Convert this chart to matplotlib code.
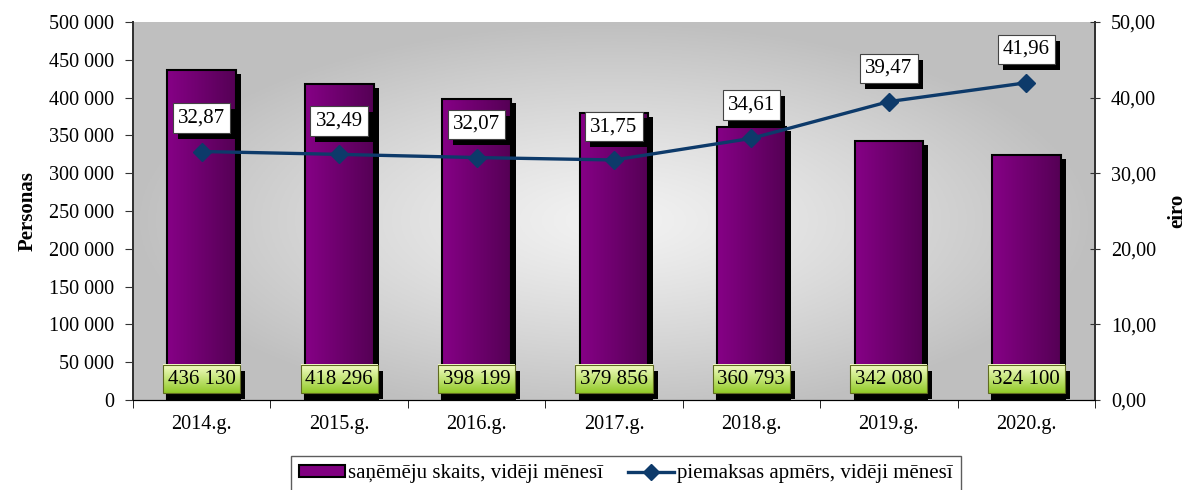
import numpy as np
import matplotlib
matplotlib.use("Agg")
import matplotlib.pyplot as plt
from matplotlib.patches import Rectangle, Patch
from matplotlib.lines import Line2D
import matplotlib.transforms as mtransforms

# Data
years = ["2014.g.", "2015.g.", "2016.g.", "2017.g.", "2018.g.", "2019.g.", "2020.g."]
recipients = [436130, 418296, 398199, 379856, 360793, 342080, 324100]
recipient_labels = ["436 130", "418 296", "398 199", "379 856", "360 793", "342 080", "324 100"]
payment = [32.87, 32.49, 32.07, 31.75, 34.61, 39.47, 41.96]
left_ticks = [0, 50000, 100000, 150000, 200000, 250000, 300000, 350000, 400000, 450000, 500000]
right_ticks = [0, 10, 20, 30, 40, 50]

plt.rcParams["font.family"] = ["Liberation Serif", "DejaVu Serif"]

fig = plt.figure(figsize=(11.92, 4.90), dpi=100)
ax = fig.add_axes([133 / 1192, 1 - 400 / 490, (1095 - 133) / 1192, (400 - 22) / 490])
ax2 = ax.twinx()

n = len(years)
x = np.arange(n)
ax.set_xlim(-0.5, n - 0.5)
ax.set_ylim(0, 500000)
ax2.set_ylim(0, 50)

# Background: radial grey gradient, lighter in the middle
gx = np.linspace(-1, 1, 400)
gy = np.linspace(-1, 1, 200)
GX, GY = np.meshgrid(gx, gy)
r = np.clip(np.sqrt(GX ** 2 + ((GY + 0.05) / 1.05) ** 2), 0, 1)
shade = 0.95 - 0.2 * r ** 1.2
bg = np.dstack([shade, shade, shade])
ax.imshow(bg, extent=(-0.5, n - 0.5, 0, 500000), aspect="auto", zorder=0, origin="lower")

# Bars with horizontal purple gradient and a drop shadow
bar_w = 0.5
shadow_off = mtransforms.ScaledTranslation(5 / 100, -4 / 100, fig.dpi_scale_trans)
grad = np.linspace(0, 1, 64)
c_left = np.array([0x86, 0x00, 0x86]) / 255
c_right = np.array([0x55, 0x00, 0x55]) / 255
bar_img = (c_left[None, :] * (1 - grad[:, None]) + c_right[None, :] * grad[:, None])[None, :, :]
for xi, v in zip(x, recipients):
    sh = Rectangle((xi - bar_w / 2, 0), bar_w, v, facecolor="black", edgecolor="none",
                   transform=ax.transData + shadow_off, zorder=1, clip_on=True)
    ax.add_patch(sh)
    im = ax.imshow(bar_img, extent=(xi - bar_w / 2, xi + bar_w / 2, 0, v), aspect="auto",
                   zorder=2, interpolation="bilinear")
    rect = Rectangle((xi - bar_w / 2, 0), bar_w, v, facecolor="none", edgecolor="black",
                     linewidth=1.5, zorder=3)
    ax.add_patch(rect)
    im.set_clip_path(rect)

# Bar value labels (green boxes)
bar_texts = []
for xi, lab in zip(x, recipient_labels):
    t = ax.annotate(lab, (xi, 0), xytext=(0, 15), textcoords="offset points", ha="center",
                    va="center", fontsize=15, color="black", zorder=7,
                    bbox=dict(boxstyle="square,pad=0.22", facecolor="none", edgecolor="#5f6b20",
                              linewidth=0.8))
    bar_texts.append(t)

# Line series on the secondary axis
ax2.plot(x, payment, color="#0d3a6a", linewidth=2.4, marker="D", markersize=9,
         markeredgecolor="#0d3a6a", zorder=4)
line_texts = []
for xi, v in zip(x, payment):
    s = f"{v:.2f}".replace(".", ",")
    t = ax2.annotate(s, (xi, v), xytext=(0, 24), textcoords="offset points", ha="center",
                     va="center", fontsize=15, color="black", zorder=6,
                     bbox=dict(boxstyle="square,pad=0.25", facecolor="white", edgecolor="#444444",
                               linewidth=0.8))
    line_texts.append(t)

# Axes styling
ax.set_zorder(1)
ax2.set_zorder(2)
ax2.patch.set_visible(False)
ax.set_yticks(left_ticks)
ax.set_yticklabels([f"{v:,}".replace(",", " ") for v in left_ticks], fontsize=14.5)
ax2.set_yticks(right_ticks)
ax2.set_yticklabels([f"{v:.2f}".replace(".", ",") for v in right_ticks], fontsize=14.5)
ax.set_xticks(x)
ax.set_xticklabels(years, fontsize=14.5)
ax.set_xticks(np.arange(n + 1) - 0.5, minor=True)
ax.tick_params(axis="x", which="major", length=0, pad=11)
ax.tick_params(axis="x", which="minor", length=6, direction="out", color="black")
ax.tick_params(axis="y", length=6, direction="out", color="#333333", pad=7.5)
ax2.tick_params(axis="y", length=7, direction="inout", color="#333333", pad=8)
for a in (ax, ax2):
    a.spines["top"].set_visible(False)
    a.spines["left"].set_color("#333333")
    a.spines["right"].set_color("#333333")
    a.spines["left"].set_linewidth(1.4)
    a.spines["right"].set_linewidth(1.4)
    a.spines["bottom"].set_color("black")

ax.set_ylabel("Personas", fontsize=15, fontweight="bold", labelpad=8)
ax2.set_ylabel("eiro", fontsize=15, fontweight="bold", labelpad=8)

# Legend
handles = [Patch(facecolor="#800080", edgecolor="black", linewidth=1.5),
           Line2D([0], [0], color="#0d3a6a", linewidth=2.4, marker="D", markersize=8)]
leg = fig.legend(handles, ["saņēmēju skaits, vidēji mēnesī", "piemaksas apmērs, vidēji mēnesī"],
                 loc="upper center", bbox_to_anchor=(626 / 1192, 1 - 456 / 490), ncol=2,
                 fontsize=15, frameon=True, fancybox=False, edgecolor="#333333",
                 handlelength=2.2, handleheight=0.5, handletextpad=0.15, columnspacing=1.2,
                 borderpad=0.4, borderaxespad=0)
leg.get_frame().set_linewidth(1.0)

# Shadows and gradient fills behind the label boxes
fig.canvas.draw()
rend = fig.canvas.get_renderer()
gy2 = np.linspace(0, 1, 64)
top_c = np.array([0xf6, 0xff, 0xc8]) / 255
bot_c = np.array([0x92, 0xca, 0x28]) / 255
green = (bot_c[None, :] * (1 - gy2[:, None]) + top_c[None, :] * gy2[:, None])[:, None, :]
sdx, sdy = 5, 6

for t in bar_texts:
    bb = t.get_bbox_patch().get_window_extent(rend)
    inv = ax.transData.inverted()
    (x0, y0), (x1, y1) = inv.transform([(bb.x0, bb.y0), (bb.x1, bb.y1)])
    (sx0, sy0), (sx1, sy1) = inv.transform([(bb.x0 + sdx, bb.y0 - sdy), (bb.x1 + sdx, bb.y1 - sdy)])
    ax.add_patch(Rectangle((sx0, sy0), sx1 - sx0, sy1 - sy0, facecolor="black",
                           edgecolor="none", zorder=5, clip_on=True))
    ax.imshow(green, extent=(x0, x1, y0, y1), aspect="auto", origin="lower", zorder=6,
              interpolation="bilinear", clip_on=False)

for t in line_texts:
    bb = t.get_bbox_patch().get_window_extent(rend)
    inv = ax2.transData.inverted()
    (sx0, sy0), (sx1, sy1) = inv.transform([(bb.x0 + sdx, bb.y0 - sdy), (bb.x1 + sdx, bb.y1 - sdy)])
    ax2.add_patch(Rectangle((sx0, sy0), sx1 - sx0, sy1 - sy0, facecolor="black",
                            edgecolor="none", zorder=5))

ax.set_xlim(-0.5, n - 0.5)
ax.set_ylim(0, 500000)
ax2.set_ylim(0, 50)

fig.savefig("out.png", dpi=100)
